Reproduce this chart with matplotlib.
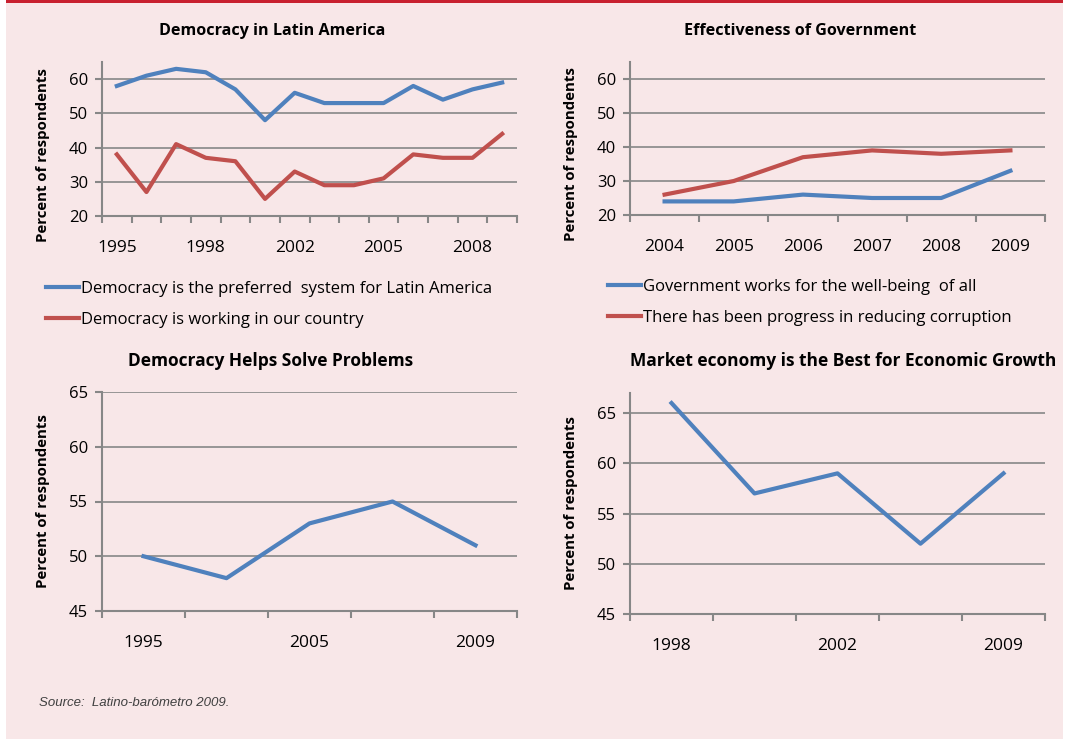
import matplotlib
matplotlib.use("Agg")
import matplotlib.pyplot as plt
from matplotlib.patches import Rectangle

# data
yrs_latam = ["1995", "1996", "1997", "1998", "2000", "2001", "2002",
             "2003", "2004", "2005", "2006", "2007", "2008", "2009"]
preferred = [58, 61, 63, 62, 57, 48, 56, 53, 53, 53, 58, 54, 57, 59]
working = [38, 27, 41, 37, 36, 25, 33, 29, 29, 31, 38, 37, 37, 44]

yrs_gov = ["2004", "2005", "2006", "2007", "2008", "2009"]
wellbeing = [24, 24, 26, 25, 25, 33]
corruption = [26, 30, 37, 39, 38, 39]

yrs_solve = ["1995", "2002", "2005", "2007", "2009"]
solves = [50, 48, 53, 55, 51]

yrs_market = ["1998", "2000", "2002", "2005", "2009"]
market = [66, 57, 59, 52, 59]

BLUE = "#4F81BD"
RED = "#C0504D"
GRID = "#878787"
BG = "#F8E7E8"

plt.rcParams['font.family'] = ['Open Sans', 'DejaVu Sans']

W, H = 1067, 742
fig = plt.figure(figsize=(W / 100, H / 100), dpi=100)
fig.patch.set_facecolor("white")

# pink panel + red top rule
fig.patches.append(Rectangle((6 / W, 1 - 739 / H), 1057 / W, 737 / H,
                             transform=fig.transFigure, facecolor=BG,
                             edgecolor="none", zorder=-10))
fig.patches.append(Rectangle((6 / W, 1 - 3 / H), 1057 / W, 3 / H,
                             transform=fig.transFigure, facecolor="#C8202F",
                             edgecolor="none", zorder=-10))


def make_ax(x0, y0, x1, y1):
    # pixel box -> figure fraction
    return fig.add_axes([x0 / W, 1 - y1 / H, (x1 - x0) / W, (y1 - y0) / H])


def style(ax, cats, ylim, yticks, every, xpad):
    n = len(cats)
    ax.set_facecolor("none")
    ax.set_xlim(-0.5, n - 0.5)
    ax.set_ylim(*ylim)
    ax.set_yticks(yticks)
    ax.yaxis.grid(True, color=GRID, lw=1.2)
    ax.set_axisbelow(True)
    for s in ["top", "right"]:
        ax.spines[s].set_visible(False)
    for s in ["left", "bottom"]:
        ax.spines[s].set_color(GRID)
        ax.spines[s].set_linewidth(1.5)
    pos = list(range(0, n, every))
    ax.set_xticks(pos)
    ax.set_xticklabels([cats[i] for i in pos])
    ax.set_xticks([i - 0.5 for i in range(n + 1)], minor=True)
    ax.tick_params(axis="x", which="major", length=0, pad=xpad, labelsize=12.5)
    ax.tick_params(axis="x", which="minor", length=5, width=1.5, color=GRID,
                   direction="out")
    ax.tick_params(axis="y", length=5, width=1.5, color=GRID, pad=5,
                   labelsize=12)


def ylabel(x, yc):
    fig.text(x / W, 1 - yc / H, "Percent of respondents", rotation=90,
             ha="center", va="center", fontsize=10.8, fontweight="bold")


def title(xc, y, s, size=11.6):
    fig.text(xc / W, 1 - y / H, s, ha="center", va="center",
             fontsize=size, fontweight="bold")


lw = 3

# top left
ax1 = make_ax(102, 62, 517, 216)
x = range(len(yrs_latam))
l1, = ax1.plot(x, preferred, color=BLUE, lw=lw,
               label="Democracy is the preferred  system for Latin America")
l2, = ax1.plot(x, working, color=RED, lw=lw,
               label="Democracy is working in our country")
style(ax1, yrs_latam, (20, 65), [20, 30, 40, 50, 60], 3, 17)
title(272, 31, "Democracy in Latin America")
ylabel(43, 155)
fig.legend(handles=[l1, l2], loc="upper left",
           bbox_to_anchor=(46 / W, 1 - 281 / H), frameon=False,
           fontsize=12, handlelength=2.0, handletextpad=0.1,
           labelspacing=0.9, borderaxespad=0, borderpad=0)

# top right
ax2 = make_ax(630, 62, 1045, 215)
x = range(len(yrs_gov))
l3, = ax2.plot(x, wellbeing, color=BLUE, lw=lw,
               label="Government works for the well-being  of all")
l4, = ax2.plot(x, corruption, color=RED, lw=lw,
               label="There has been progress in reducing corruption")
style(ax2, yrs_gov, (20, 65), [20, 30, 40, 50, 60], 1, 17)
title(800, 31, "Effectiveness of Government")
ylabel(571, 154)
fig.legend(handles=[l3, l4], loc="upper left",
           bbox_to_anchor=(608 / W, 1 - 279 / H), frameon=False,
           fontsize=12, handlelength=2.0, handletextpad=0.1,
           labelspacing=0.9, borderaxespad=0, borderpad=0)

# bottom left
ax3 = make_ax(102, 392, 517, 611)
ax3.plot(range(len(yrs_solve)), solves, color=BLUE, lw=lw)
style(ax3, yrs_solve, (45, 65), [45, 50, 55, 60, 65], 2, 17)
title(271, 361, "Democracy Helps Solve Problems", 12.5)
ylabel(43, 501)

# bottom right
ax4 = make_ax(630, 393, 1045, 614)
ax4.plot(range(len(yrs_market)), market, color=BLUE, lw=lw)
style(ax4, yrs_market, (45, 67), [45, 50, 55, 60, 65], 2, 17)
title(843, 361, "Market economy is the Best for Economic Growth", 12.5)
ylabel(571, 503)

fig.text(39 / W, 1 - 703 / H, "Source:  Latino-barómetro 2009.",
         ha="left", va="center", fontsize=9.5, style="italic",
         color="#404040", family=["Liberation Sans", "DejaVu Sans"])

fig.savefig("out.png", dpi=100, facecolor=fig.get_facecolor())
